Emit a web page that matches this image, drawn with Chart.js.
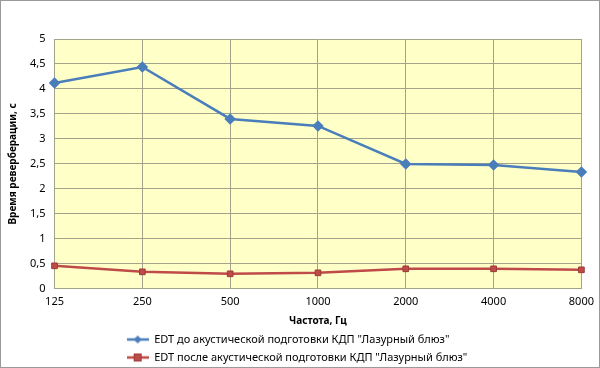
<!DOCTYPE html>
<html>
<head>
<meta charset="utf-8">
<script src="https://cdn.jsdelivr.net/npm/chart.js@4.4.0/dist/chart.umd.min.js"></script>
<style>
  html, body { margin: 0; padding: 0; background: #fff; }
  #wrap { width: 600px; height: 368px; position: relative; }
</style>
</head>
<body>
<div id="wrap"><canvas id="canvas-1"></canvas></div>
<script>
// data
var freqs = ['125', '250', '500', '1000', '2000', '4000', '8000'];
var edtBefore = [4.12, 4.44, 3.40, 3.26, 2.50, 2.48, 2.34];
var edtAfter = [0.46, 0.34, 0.30, 0.32, 0.40, 0.40, 0.38];
var seriesNames = [
  'EDT до акустической подготовки КДП "Лазурный блюз"',
  'EDT после акустической подготовки КДП "Лазурный блюз"'
];

var blue = '#4A7EBB';
var red = '#BE4B48';
var gridCol = '#A3A38C';
var fontFam = '"Noto Sans", "DejaVu Sans", sans-serif';

// small line+marker picture for the legend
function legendIcon(color, shape) {
  var c = document.createElement('canvas');
  c.width = 22; c.height = 10;
  var g = c.getContext('2d');
  g.strokeStyle = color;
  g.lineWidth = 2.5;
  g.beginPath(); g.moveTo(0, 5); g.lineTo(22, 5); g.stroke();
  g.fillStyle = color;
  if (shape === 'diamond') {
    g.beginPath(); g.moveTo(11, 1); g.lineTo(15, 5); g.lineTo(11, 9); g.lineTo(7, 5); g.closePath(); g.fill();
  } else {
    g.fillRect(7, 1, 8, 8);
    g.strokeStyle = '#9B3B38'; g.lineWidth = 1;
    g.strokeRect(7.5, 1.5, 7, 7);
  }
  return c;
}

var plotBg = {
  id: 'plotBg',
  afterUpdate: function (chart) {
    // left-align legend rows on a common start (like the original)
    var lg = chart.legend;
    if (lg && lg.lineWidths) {
      var m = Math.max.apply(null, lg.lineWidths);
      lg.lineWidths = lg.lineWidths.map(function () { return m; });
    }
  },
  beforeDraw: function (chart) {
    var a = chart.chartArea, ctx = chart.ctx;
    ctx.save();
    ctx.fillStyle = '#FFFFC8';
    ctx.fillRect(a.left, a.top, a.right - a.left, a.bottom - a.top);
    ctx.restore();
  },
  afterDraw: function (chart) {
    var ctx = chart.ctx;
    ctx.save();
    ctx.strokeStyle = '#9a9a9a';
    ctx.lineWidth = 1;
    ctx.strokeRect(0.5, 0.5, chart.width - 1, chart.height - 1);
    ctx.restore();
  }
};

var ctx = document.getElementById('canvas-1');
var chart = new Chart(ctx, {
  type: 'line',
  data: {
    labels: freqs,
    datasets: [
      {
        label: seriesNames[0],
        data: edtBefore,
        borderColor: blue,
        backgroundColor: blue,
        borderWidth: 2.5,
        pointStyle: 'rectRot',
        pointRadius: 4,
        pointBackgroundColor: blue,
        pointBorderColor: blue,
        tension: 0
      },
      {
        label: seriesNames[1],
        data: edtAfter,
        borderColor: red,
        backgroundColor: red,
        borderWidth: 2.5,
        pointStyle: 'rect',
        pointRadius: 4,
        pointBackgroundColor: red,
        pointBorderColor: '#9B3B38',
        pointBorderWidth: 1,
        tension: 0
      }
    ]
  },
  options: {
    responsive: true,
    maintainAspectRatio: false,
    animation: false,
    layout: { padding: { top: 39, right: 13, left: 7, bottom: -5 } },
    plugins: {
      tooltip: { enabled: false },
      legend: {
        position: 'bottom',
        align: 'center',
        labels: {
          usePointStyle: true,
          pointStyleWidth: 22,
          color: '#000',
          font: { family: fontFam, size: 11 },
          padding: 7,
          generateLabels: function (ch) {
            return ch.data.datasets.map(function (ds, i) {
              return {
                text: ds.label,
                pointStyle: legendIcon(ds.borderColor, i === 0 ? 'diamond' : 'square'),
                fillStyle: ds.borderColor,
                strokeStyle: ds.borderColor,
                lineWidth: 0,
                datasetIndex: i,
                fontColor: '#000'
              };
            });
          }
        }
      }
    },
    scales: {
      x: {
        offset: false,
        grid: { color: gridCol, lineWidth: 1, drawTicks: false },
        border: { color: gridCol },
        ticks: { color: '#000', padding: 6, font: { family: fontFam, size: 11 }, maxRotation: 0 },
        title: { display: true, text: 'Частота, Гц', color: '#000', padding: { top: 1, bottom: 0 }, font: { family: fontFam, size: 10, weight: 'bold' } }
      },
      y: {
        min: 0,
        max: 5,
        grid: { color: gridCol, lineWidth: 1, drawTicks: false },
        border: { color: gridCol },
        ticks: {
          stepSize: 0.5,
          color: '#000',
          padding: 9,
          font: { family: fontFam, size: 11 },
          callback: function (v) { return String(v).replace('.', ','); }
        },
        title: { display: true, text: 'Время реверберации, с', color: '#000', padding: { top: 0, bottom: 2 }, font: { family: fontFam, size: 10, weight: 'bold' } }
      }
    }
  },
  plugins: [plotBg]
});
</script>
</body>
</html>
